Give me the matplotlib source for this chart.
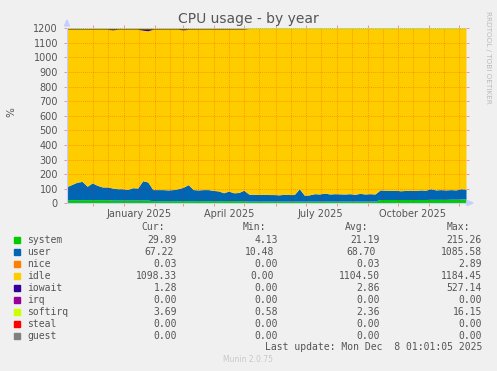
import numpy as np
import pandas as pd
import matplotlib
matplotlib.use("Agg")
import matplotlib.pyplot as plt
from matplotlib.patches import Rectangle, Polygon

W, H = 497, 371

# --- data (~5 day steps) ---
dates = pd.date_range("2024-11-05", "2025-12-08", periods=80)
cpu_total = 1200  # 12 cores

system = [25, 25, 25, 25, 25, 25, 25, 25, 25, 22, 22, 22, 22, 22, 22, 22, 22,
          18, 18, 18, 18, 18, 18, 18, 18, 18, 18, 18, 18, 18, 18, 18, 18, 18, 18, 18,
          15, 15, 15, 15, 15, 15, 15, 15, 15, 15, 15, 15, 15, 15, 15, 15, 15, 15, 15,
          15, 15, 15, 15, 15, 15, 15,
          26, 26, 26, 26, 26, 26, 26, 26, 26, 26, 27, 27, 27, 27, 28, 28, 29, 30]
user = [90, 105, 120, 125, 92, 115, 98, 87, 87, 83, 78, 78, 73, 85, 83, 133, 124,
        76, 76, 76, 74, 76, 82, 92, 110, 76, 74, 76, 76, 70, 67, 54, 66, 54, 56, 72,
        48, 47, 45, 47, 45, 45, 43, 47, 45, 45, 85, 40, 43, 51, 49, 55, 49, 51, 50,
        49, 51, 47, 53, 49, 51, 49,
        66, 64, 62, 64, 60, 62, 64, 62, 66, 64, 73, 65, 67, 65, 66, 64, 71, 67]
nice = [0.03] * 80
iowait = [4, 4, 4, 4, 4, 4, 4, 4, 4, 8, 4, 4, 4, 4, 4, 10, 14,
          4, 4, 4, 4, 4, 4, 8, 4, 4, 4, 4, 4, 4, 4, 4, 4, 4, 4, 4,
          1, 1, 1, 1, 1, 1, 1, 1, 1, 1, 1, 1, 1, 1, 1, 1, 1, 1, 1,
          1, 1, 1, 1, 1, 1, 1,
          1, 1, 1, 1, 1, 1, 1, 1, 1, 1, 1, 1, 1, 1, 1, 1, 1, 1]
irq = [0.0] * 80
softirq = [3.0] * 80
steal = [0.0] * 80
guest = [0.0] * 80
idle = (cpu_total - np.array(system) - np.array(user) - np.array(nice)
        - np.array(iowait) - np.array(softirq))

names = ["system", "user", "nice", "idle", "iowait", "irq", "softirq", "steal", "guest"]
colors = ["#00CC00", "#0066B3", "#FF8000", "#FFCC00", "#330099",
          "#990099", "#CCFF00", "#FF0000", "#808080"]
series = [system, user, nice, idle, iowait, irq, softirq, steal, guest]

cur = ["29.89", "67.22", "0.03", "1098.33", "1.28", "0.00", "3.69", "0.00", "0.00"]
vmin = ["4.13", "10.48", "0.00", "0.00", "0.00", "0.00", "0.58", "0.00", "0.00"]
vavg = ["21.19", "68.70", "0.03", "1104.50", "2.86", "0.00", "2.36", "0.00", "0.00"]
vmax = ["215.26", "1085.58", "2.89", "1184.45", "527.14", "0.00", "16.15", "0.00", "0.00"]

yticks = list(range(0, 1201, 100))
label_months = ["2025-01-16", "2025-04-16", "2025-07-16", "2025-10-16"]
label_texts = ["January 2025", "April 2025", "July 2025", "October 2025"]


def fx(px):
    return px / W


def fy(py):
    return 1 - py / H


fig = plt.figure(figsize=(W / 100, H / 100), dpi=100, facecolor="#F0F0F0")
ax = fig.add_axes([fx(67), fy(203.3), fx(466) - fx(67), (203.3 - 28.3) / H])
ax.set_facecolor("white")

base = np.zeros(len(dates))
for vals, col, nm in zip(series, colors, names):
    top = base + np.array(vals, dtype=float)
    ax.fill_between(dates, base, top, color=col, linewidth=0, zorder=2)
    base = top

ax.set_xlim(dates[0], dates[-1])
ax.set_ylim(0, 1200)

# grid
grid_kw = dict(color="#FF0000", alpha=0.25, linewidth=0.7, linestyle=(0, (1, 1)), zorder=3)
for y in yticks[1:]:
    ax.axhline(y, **grid_kw)
month_starts = pd.date_range("2024-12-01", "2025-12-01", freq="MS")
mid_months = pd.date_range("2024-11-16", "2025-11-16", freq="MS") + pd.Timedelta(days=15)
for d in list(month_starts) + list(mid_months):
    ax.axvline(d, **grid_kw)

ax.set_yticks(yticks)
ax.set_yticklabels([str(v) for v in yticks])
ax.set_xticks(month_starts)
ax.set_xticklabels([])
ax.set_xticks(pd.to_datetime(label_months), minor=True)
ax.set_xticklabels(label_texts, minor=True)
ax.tick_params(axis="both", which="major", direction="out", length=2, width=0.7,
               color=(1, 0, 0, 0.4), labelsize=7, labelcolor="#555555", pad=4.5)
ax.tick_params(axis="x", which="minor", length=0, labelsize=7, labelcolor="#555555", pad=4)
ax.tick_params(axis="y", right=True)
ax.tick_params(axis="x", top=True)

for s in ["top", "right"]:
    ax.spines[s].set_visible(False)
for s in ["left", "bottom"]:
    ax.spines[s].set_color("#C8CCFF")
    ax.spines[s].set_linewidth(0.8)
    ax.spines[s].set_zorder(4)

# axis arrows
fig.patches.append(Polygon([[fx(64.5), fy(26)], [fx(69.5), fy(26)], [fx(67), fy(20)]],
                           closed=True, transform=fig.transFigure, color="#C8CCFF"))
fig.patches.append(Polygon([[fx(467), fy(200.5)], [fx(467), fy(205.5)], [fx(473), fy(203)]],
                           closed=True, transform=fig.transFigure, color="#C8CCFF"))

fig.text(fx(248), fy(19.5), "CPU usage - by year", ha="center", va="center",
         fontsize=10, color="#555555")
fig.text(fx(11), fy(112), "%", rotation=90, ha="center", va="center",
         fontsize=7.5, color="#555555")
fig.text(fx(488), fy(57), "RRDTOOL / TOBI OETIKER", rotation=270, ha="center",
         va="center", fontsize=5.2, color="#BBBBBB")

# legend
mono = dict(family="DejaVu Sans Mono", fontsize=7, color="#555555", va="center")
hdr_y = 227
fig.text(fx(141), fy(hdr_y), "Cur:", ha="left", **mono)
fig.text(fx(243), fy(hdr_y), "Min:", ha="left", **mono)
fig.text(fx(345), fy(hdr_y), "Avg:", ha="left", **mono)
fig.text(fx(447), fy(hdr_y), "Max:", ha="left", **mono)
for i, nm in enumerate(names):
    y = 240 + 12 * i
    fig.patches.append(Rectangle((fx(14), fy(y + 3)), 6 / W, 6 / H,
                                 transform=fig.transFigure, color=colors[i]))
    fig.text(fx(27), fy(y), nm, ha="left", **mono)
    sh = 3 if nm == "user" else 0
    fig.text(fx(177 - sh), fy(y), cur[i], ha="right", **mono)
    fig.text(fx(278 - (4 if nm in ("user", "idle") else 0)), fy(y), vmin[i], ha="right", **mono)
    fig.text(fx(380 - (4 if nm == "user" else 0)), fy(y), vavg[i], ha="right", **mono)
    fig.text(fx(482), fy(y), vmax[i], ha="right", **mono)

fig.text(fx(482), fy(347), "Last update: Mon Dec  8 01:01:05 2025", ha="right", **mono)
fig.text(fx(248), fy(360), "Munin 2.0.75", ha="center", va="center",
         fontsize=5.5, color="#C8C8C8")

fig.savefig("out.png", dpi=100, facecolor=fig.get_facecolor())
